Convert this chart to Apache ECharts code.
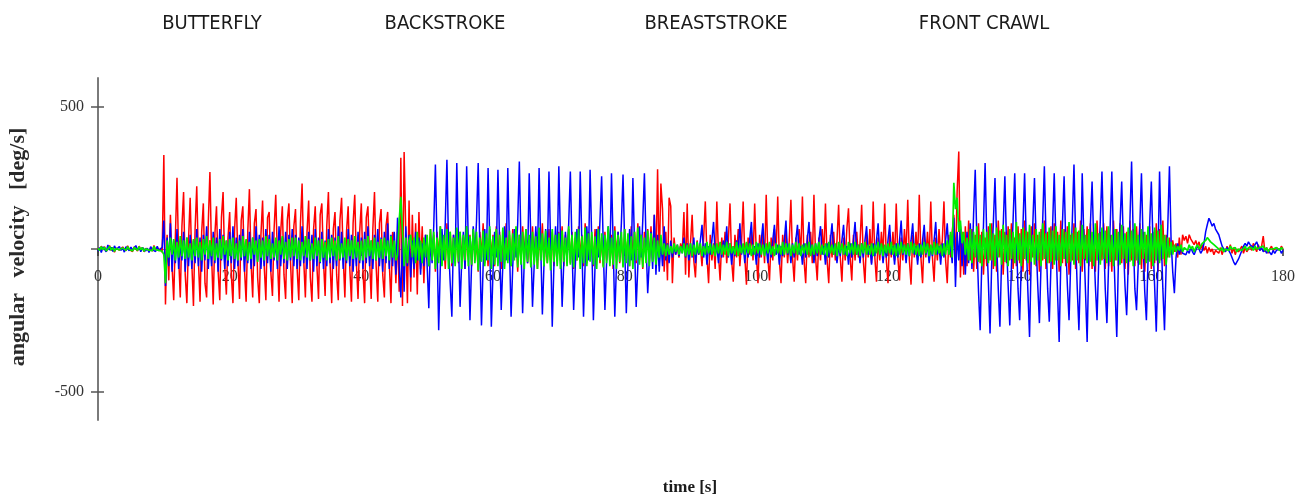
<!DOCTYPE html>
<html><head><meta charset="utf-8">
<script src="https://cdn.jsdelivr.net/npm/echarts@6/dist/echarts.min.js"></script>
<style>html,body{margin:0;padding:0;background:#fff}#c{width:1307px;height:503px}</style>
</head><body><div id="c"></div>
<script>
// sample spacing of the recorded signals, seconds
const STEP = 0.25;
const strokeNames = ['BUTTERFLY', 'BACKSTROKE', 'BREASTSTROKE', 'FRONT CRAWL'];
const xTicks = [0, 20, 40, 60, 80, 100, 120, 140, 160, 180];
const yTickLabels = [-500, 500];
const yTickMarks = [-500, 0, 500];

// angular velocity [deg/s], one line = 5 s
const red = [
4,-6,10,-3,8,-9,2,12,-5,6,-11,3,9,-4,-8,7,1,-6,11,-2,
5,-9,8,3,-7,10,-4,6,-10,2,9,-5,4,-8,12,-3,6,-7,3,-12,
330,-195,50,-110,120,-60,-180,40,250,-30,-170,80,200,-90,-190,30,180,-50,-200,70,
220,-40,-185,60,160,-120,-170,90,270,-20,-195,50,150,-80,-180,110,200,-60,-160,40,
130,-90,-190,70,180,-40,-175,100,150,-70,-185,60,210,-50,-170,90,140,-100,-190,50,
170,-60,-180,110,130,-80,-165,70,190,-30,-185,60,150,-90,-175,100,160,-50,-190,80,
140,-70,-180,90,230,-40,-170,60,170,-100,-185,70,150,-60,-175,120,160,-40,-165,80,
200,-50,-190,70,130,-90,-180,100,180,-30,-170,60,150,-70,-185,90,190,-50,-175,60,
160,-80,-190,110,150,-40,-175,70,200,-60,-185,90,140,-90,-170,80,130,-50,-190,60,
40,-120,60,-150,320,-200,340,60,-190,170,-150,120,-100,90,-160,130,-70,80,-120,50,
30,-60,70,-40,50,-80,60,-30,80,-50,40,-70,90,-20,60,-60,50,-40,70,-50,
60,-30,40,-70,80,-20,50,-60,70,-40,30,-80,60,-30,90,-50,40,-60,70,-30,
50,-60,80,-30,60,-70,40,-50,90,-40,50,-60,70,-30,60,-80,50,-40,80,-30,
70,-50,40,-60,80,-40,60,-70,50,-30,90,-60,40,-50,70,-40,60,-60,50,-30,
60,-40,80,-60,50,-30,70,-50,60,-70,40,-40,80,-30,50,-60,90,-50,60,-40,
50,-60,70,-30,80,-50,40,-60,60,-40,70,-50,50,-70,80,-30,60,-50,40,-60,
70,-40,50,-60,80,-30,60,-50,90,-40,50,-70,60,-30,70,-50,80,-40,120,-60,
280,-60,230,140,-80,60,-110,180,150,-120,40,-20,10,-30,20,-10,130,-90,160,-100,
20,120,-40,-100,30,-20,10,-60,40,167,-30,-120,50,-40,20,-70,167,-20,-110,40,
-30,60,-50,30,160,-40,-115,50,-30,70,-60,20,167,-30,-125,40,-20,60,-40,160,
-20,-120,50,-30,60,-50,190,-30,-110,40,-40,70,-20,184,-40,-120,50,-30,60,-50,
30,173,-30,-115,40,-40,70,-20,184,-40,-120,50,-30,60,-50,190,-30,-110,40,-40,
70,-20,160,-40,-120,50,-30,60,-40,30,155,-30,-115,40,-40,70,143,-30,-110,50,
-40,60,-30,20,155,-40,-120,50,-30,70,-50,167,-30,-115,40,-40,60,-20,160,-40,
-120,50,-30,60,-40,160,-30,-110,40,-40,70,-20,173,-40,-125,50,-30,60,-40,190,
-30,-120,50,-30,60,-40,167,-30,-115,40,-40,70,-20,30,167,-40,-120,50,-30,60,
120,-60,200,342,-100,60,-90,80,-60,100,-40,70,-80,50,-70,90,-50,60,-90,40,
-60,80,-40,90,-70,50,-80,100,-30,70,-90,60,-50,80,-40,90,-70,40,-60,80,
-50,70,-80,100,-40,60,-90,80,-30,90,-60,50,-80,70,-40,100,-70,60,-50,80,
-70,90,-40,60,-80,100,-50,70,-60,80,-90,50,-40,90,-70,60,-50,100,-80,70,
-40,80,-60,90,-70,50,-80,100,-50,60,-40,90,-70,80,-60,50,-80,100,-40,70,
-60,90,-50,80,-70,60,-90,100,-40,70,-60,80,-50,90,-70,60,-80,50,-40,80,
-70,60,-50,90,-80,70,-40,100,-60,50,-30,40,-20,30,-10,20,-30,40,-20,50,
30,45,20,50,35,40,15,30,10,25,0,15,-5,10,-15,5,-10,0,-20,-5,
-10,-15,5,-20,0,-10,10,-5,15,-15,5,-20,0,-10,-5,10,-15,5,-10,0,
10,-5,20,5,-10,15,-5,10,45,-10,5,-15,0,10,-5,-10,5,0,-5,10,
0];

const blue = [
-8,5,-12,7,3,-10,14,-4,6,-9,11,-2,-7,9,-5,4,-11,8,2,-6,
7,-4,-9,12,-3,6,-10,5,9,-7,3,-12,8,-2,5,-9,10,-5,-3,6,
100,-130,40,-60,90,-80,30,-50,70,-70,20,-40,60,-80,40,-60,50,-70,30,-50,
70,-60,40,-80,50,-40,80,-70,30,-60,60,-50,40,-80,70,-40,50,-70,30,-60,
60,-50,80,-70,40,-60,50,-40,70,-80,30,-50,60,-70,40,-60,80,-40,50,-70,
40,-60,70,-50,50,-80,60,-40,30,-70,80,-60,40,-50,60,-70,50,-40,70,-60,
50,-70,40,-60,80,-50,30,-70,60,-40,50,-80,70,-60,40,-50,60,-70,30,-60,
70,-50,50,-70,40,-60,80,-40,60,-70,30,-50,70,-60,50,-80,40,-60,60,-50,
40,-70,60,-50,80,-60,30,-70,50,-40,70,-60,40,-80,60,-50,90,-70,50,-60,
60,-90,110,-60,-170,40,-150,80,-60,50,-100,30,-70,60,-40,40,-90,20,-60,50,
-60,-208,40,-50,80,296,20,-285,-60,70,-40,90,313,10,-120,-238,50,-50,302,30,
-203,-40,60,-70,290,20,-250,-50,80,-30,100,302,0,-268,-60,70,-40,284,30,-273,
-80,60,-30,278,20,-214,-50,80,-40,284,10,-238,-60,70,-30,90,307,20,-225,-40,
60,-50,266,30,-203,-60,80,-40,284,10,-230,-50,70,-30,272,20,-273,-60,80,-40,
290,30,-203,-50,60,-40,90,272,10,-214,-60,70,-30,272,20,-238,-50,80,-40,278,
30,-250,-60,70,-30,100,255,10,-214,-50,80,-40,266,20,-238,-60,60,-30,90,261,
20,-225,-50,70,-40,249,10,-203,-60,80,-30,100,266,20,-155,-40,60,-70,120,-90,
50,-80,30,-60,80,-40,20,-50,30,-30,10,-20,15,-25,10,-15,40,-30,20,-40,
20,-30,40,-50,10,-20,30,85,-30,20,-55,10,-20,30,95,-20,10,-50,20,-30,
30,-10,80,-30,20,-55,10,-25,30,-10,90,-20,15,-50,20,-30,35,95,-20,10,
-55,20,-30,30,90,-20,10,-50,20,-30,30,85,-20,15,-55,10,-25,30,100,-20,
15,-50,20,-30,30,85,-20,10,-55,20,-30,35,95,-20,15,-50,20,-25,30,80,
-20,10,-55,20,-30,30,90,-20,15,-50,10,-25,30,85,-20,10,-55,20,-30,30,
95,-20,15,-50,20,-30,30,80,-20,10,-55,20,-25,30,90,-20,15,-50,10,-30,
30,85,-20,10,-55,20,-30,30,100,-20,15,-50,20,-25,30,90,-20,10,-55,20,
-30,30,85,-20,15,-50,10,-25,30,95,-20,10,-55,20,-30,30,90,-20,15,-50,
110,-133,60,-40,80,-60,40,-90,60,-50,90,-70,120,278,30,-150,-285,-40,80,302,
40,-120,-296,-50,90,249,30,-140,-273,-40,80,255,20,-130,-268,-60,100,266,40,-140,
-250,-50,80,266,30,-150,-309,-40,90,249,20,-130,-260,-50,100,290,40,-140,-255,-60,
80,266,30,-150,-326,-40,90,255,20,-130,-250,-50,100,296,40,-140,-285,-60,266,30,
-150,-326,-40,90,237,20,-130,-250,-50,100,272,40,-140,-260,-60,80,272,30,-150,-309,
-40,90,237,20,-130,-232,-50,100,307,40,-140,-215,-60,80,266,30,-150,-250,-40,90,
237,20,-130,-290,-50,272,40,-140,-285,-60,80,290,30,-80,-155,-30,20,-20,10,-15,
-10,-20,-5,-15,5,-10,-20,-5,10,0,-15,-5,20,60,85,108,95,80,90,70,
75,50,30,10,0,-10,5,-5,-15,-30,-45,-56,-50,-35,-20,-5,10,20,10,25,
15,20,5,15,25,10,-5,5,-10,0,-15,-5,-10,-20,-5,-15,-5,-10,0,-15,
-5];

const green = [
3,-5,8,-2,6,-7,1,9,-4,5,-8,2,7,-3,-6,4,0,-5,8,-1,
4,-7,6,2,-5,8,-3,5,-8,1,7,-4,3,-6,9,-2,5,-5,2,-8,
-20,-120,30,-30,40,-20,35,-40,25,-30,45,-25,30,-35,40,-30,20,-40,35,-25,
40,-30,25,-40,35,-20,45,-35,30,-25,40,-40,20,-30,35,-35,45,-20,30,-40,
35,-25,40,-35,20,-40,30,-30,45,-25,35,-40,25,-35,40,-20,30,-45,35,-30,
30,-40,45,-25,35,-35,20,-30,40,-40,30,-20,45,-35,25,-40,35,-30,40,-25,
40,-35,30,-40,25,-25,45,-30,35,-40,20,-35,40,-25,30,-45,35,-30,25,-40,
35,-30,40,-25,30,-40,45,-35,20,-30,40,-40,35,-25,30,-35,45,-30,25,-40,
30,-40,35,-30,45,-25,30,-35,40,-40,25,-30,35,-35,40,-25,30,-40,45,-30,
30,-40,-20,100,183,60,-60,40,-50,30,50,-30,40,-50,60,-40,30,-50,40,-30,
50,-60,70,-40,60,-70,40,-50,80,-60,50,-40,70,-70,60,-50,40,-60,75,-45,
60,-70,50,-40,80,-60,45,-55,70,-50,60,-75,40,-45,65,-60,55,-40,80,-70,
45,-55,70,-60,50,-45,75,-70,40,-50,65,-60,55,-40,80,-65,50,-55,60,-70,
70,-45,50,-65,60,-55,45,-70,75,-40,55,-60,65,-50,40,-75,70,-45,50,-60,
55,-70,65,-45,40,-60,80,-55,50,-65,60,-40,70,-70,45,-50,75,-60,55,-45,
60,-55,45,-70,70,-40,55,-65,50,-50,80,-60,40,-55,65,-70,50,-45,60,-65,
70,-50,55,-60,45,-70,60,-40,75,-55,50,-65,40,-50,65,-60,55,-45,40,-55,
30,-30,50,-20,20,-25,15,-20,10,-15,20,-10,15,-20,10,-15,20,-25,15,-20,
20,-25,15,-20,25,-15,20,-25,10,-20,25,-15,20,-20,15,-25,20,-15,25,-20,
15,-20,25,-25,20,-15,10,-20,25,-25,15,-15,20,-20,25,-15,20,-25,15,-20,
25,-15,20,-20,15,-25,20,-15,25,-20,10,-25,20,-15,15,-20,25,-20,20,-15,
20,-25,15,-15,25,-20,20,-25,15,-15,20,-20,25,-25,15,-20,20,-15,25,-20,
15,-20,20,-25,25,-15,15,-20,20,-25,25,-15,20,-20,15,-25,25,-15,20,-20,
25,-20,15,-25,20,-15,25,-20,15,-20,20,-25,15,-15,25,-20,20,-25,15,-15,
20,-15,25,-20,15,-25,20,-20,25,-15,15,-20,20,-25,25,-15,20,-20,15,-25,
15,-20,25,-15,20,-25,15,-20,25,-20,20,-15,15,-25,20,-20,30,-20,60,-30,
232,140,180,60,100,20,60,-20,40,-40,70,-50,60,-30,80,-45,50,-60,70,-35,
60,-50,90,-40,55,-60,75,-30,65,-55,85,-45,50,-60,70,-35,60,-50,95,-40,
55,-60,75,-35,65,-50,85,-45,50,-55,70,-40,60,-60,90,-35,55,-50,75,-45,
65,-55,80,-40,50,-60,70,-35,60,-50,95,-45,55,-55,75,-40,65,-60,85,-35,
50,-50,70,-45,60,-60,90,-40,55,-55,75,-35,65,-50,80,-45,50,-60,70,-40,
60,-55,85,-35,55,-50,75,-45,65,-60,90,-40,50,-55,70,-35,60,-50,80,-45,
55,-60,75,-40,65,-50,85,-35,50,-55,40,-30,25,-20,15,-10,10,-5,15,-10,
5,10,-5,15,0,10,-10,5,15,0,10,20,25,30,40,35,25,20,15,10,
5,0,-5,5,-10,0,5,-5,10,0,-5,5,-10,0,5,-5,0,10,-5,5,
0,5,-5,10,0,-5,5,0,10,-5,5,-10,0,5,0,-5,5,0,-5,5,
0];

const toPairs = arr => arr.map((v, i) => [i * STEP, v]);

const chart = echarts.init(document.getElementById('c'), null, {renderer: 'canvas'});
const titleFont = '"Liberation Sans Narrow", "DejaVu Sans Condensed", "Arial Narrow", sans-serif';
const serif = '"Liberation Serif", "DejaVu Serif", serif';
const titleX = [212, 445, 716, 984];
const GRID_TOP = 78, GRID_BOTTOM = 83, GRID_H = 503 - GRID_TOP - GRID_BOTTOM;

const option = {
  backgroundColor: '#ffffff',
  animation: false,
  grid: {left: 98, right: 24, top: GRID_TOP, bottom: GRID_BOTTOM},
  xAxis: {
    type: 'value', min: 0, max: 180, interval: 20,
    position: 'bottom', offset: -GRID_H / 2,
    axisLine: {show: true, onZero: false, lineStyle: {color: '#8a8a8a', width: 1}},
    axisTick: {show: true, length: 7, customValues: xTicks, lineStyle: {color: '#333', width: 1.5}},
    axisLabel: {fontFamily: serif, fontSize: 16, color: '#333', margin: 20,
      customValues: xTicks},
    splitLine: {show: false}
  },
  yAxis: [{
    type: 'value', min: -600, max: 600,
    axisLine: {show: true, onZero: false, lineStyle: {color: '#7a7a7a', width: 2}},
    axisTick: {show: true, customValues: yTickMarks, length: 7, lineStyle: {color: '#555', width: 1.5}},
    axisLabel: {customValues: yTickLabels, fontFamily: serif, fontSize: 16, color: '#333', margin: 14},
    splitLine: {show: false}
  }, {
    type: 'value', min: -600, max: 600, position: 'left',
    axisLine: {show: false, onZero: false},
    axisTick: {show: true, inside: true, customValues: yTickLabels, length: 6, lineStyle: {color: '#555', width: 1.5}},
    axisLabel: {show: false},
    splitLine: {show: false}
  }],
  series: [
    {type: 'line', name: 'red', data: toPairs(red), showSymbol: false, symbol: 'none',
     lineStyle: {color: '#ff0000', width: 1.5}, z: 2},
    {type: 'line', name: 'blue', data: toPairs(blue), showSymbol: false, symbol: 'none',
     lineStyle: {color: '#0000ff', width: 1.5}, z: 3},
    {type: 'line', name: 'green', data: toPairs(green), showSymbol: false, symbol: 'none',
     lineStyle: {color: '#00ee00', width: 1.7}, z: 4}
  ],
  graphic: strokeNames.map((t, k) => ({
    type: 'text', x: titleX[k], y: 24,
    style: {text: t, fontFamily: titleFont, fontSize: 20, fill: '#1a1a1a', align: 'center', verticalAlign: 'middle'}
  })).concat([
    {type: 'text', x: 18, y: 247, rotation: Math.PI / 2,
     style: {text: 'angular\u2002\u2009velocity\u2002\u2009[deg/s]', fontFamily: serif, fontWeight: 'bold', fontSize: 22,
             fill: '#2a2a2a', align: 'center', verticalAlign: 'middle'}},
    {type: 'text', x: 690, y: 488,
     style: {text: 'time [s]', fontFamily: serif, fontWeight: 'bold', fontSize: 17,
             fill: '#1a1a1a', align: 'center', verticalAlign: 'middle'}}
  ])
};
chart.setOption(option);
</script>
</body></html>
